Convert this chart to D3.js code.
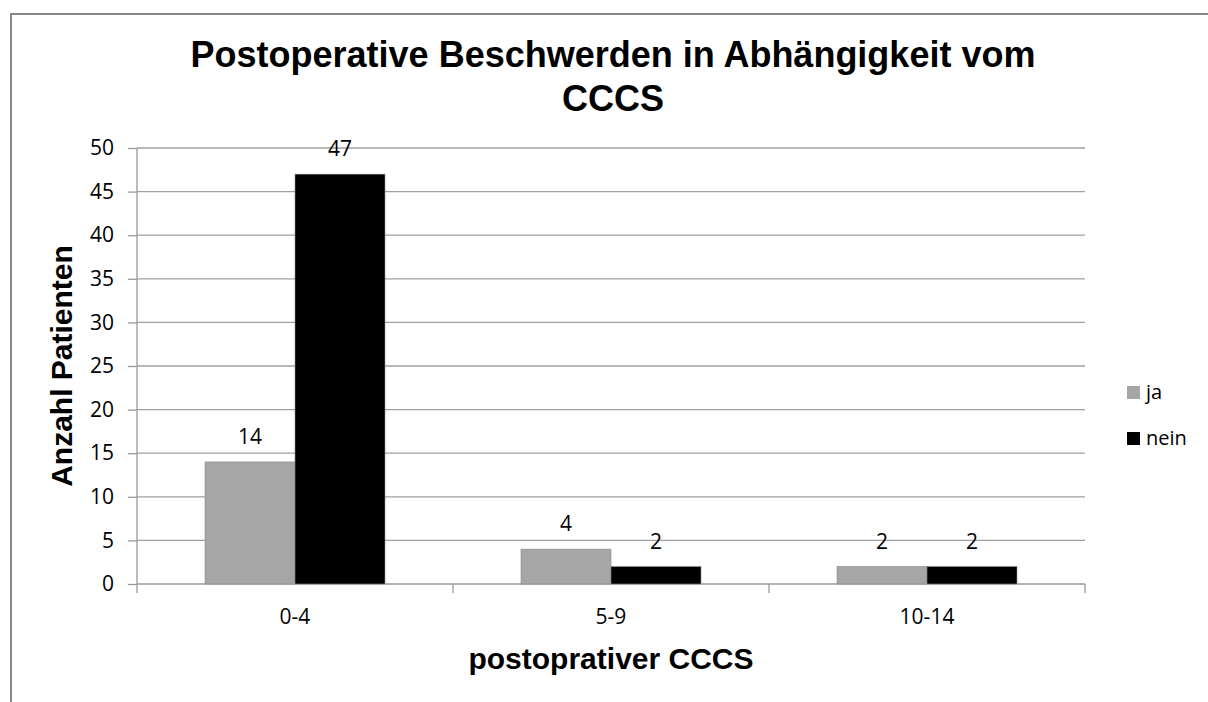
<!DOCTYPE html>
<html>
<head>
<meta charset="utf-8"/>
<script src="https://d3js.org/d3.v7.min.js"></script>
<style>
  body { margin:0; background:#fff; }
  svg text { fill:#000; }
</style>
</head>
<body>
<script>
// data
var categories = ["0-4", "5-9", "10-14"];
var seriesNames = ["ja", "nein"];
var jaValues = [14, 4, 2];
var neinValues = [47, 2, 2];
var yTicks = [0, 5, 10, 15, 20, 25, 30, 35, 40, 45, 50];
var colors = ["#a6a6a6", "#000000"];

var W = 1208, H = 702;
var plotLeft = 137, plotRight = 1085, plotTop = 148, plotBottom = 584;
var labelFont = "'Open Sans', sans-serif";
var boldFont = "'Liberation Sans', Arial, sans-serif";

var svg = d3.select("body").append("svg")
  .attr("width", W).attr("height", H);

// outer frame
svg.append("path")
  .attr("d", "M11,702 L11,14 L1208,14")
  .attr("fill", "none").attr("stroke", "#878787").attr("stroke-width", 2);

var x0 = d3.scaleBand().domain(categories).range([plotLeft, plotRight]);
var x1 = d3.scaleBand().domain(seriesNames).range([0, 180]);
var y = d3.scaleLinear().domain([0, 50]).range([plotBottom, plotTop]);

// gridlines
svg.append("g").selectAll("line")
  .data(yTicks.slice(1))
  .enter().append("line")
  .attr("x1", plotLeft).attr("x2", plotRight)
  .attr("y1", function(d){ return y(d); })
  .attr("y2", function(d){ return y(d); })
  .attr("stroke", "#a0a0a0").attr("stroke-width", 1.3);

// y axis
var yAxis = svg.append("g")
  .attr("transform", "translate(" + plotLeft + ",0)")
  .call(d3.axisLeft(y).tickValues(yTicks).tickSize(9).tickPadding(14));
yAxis.selectAll("line, path").attr("stroke", "#9a9a9a").attr("stroke-width", 1.3);
yAxis.select(".domain").attr("d", "M0," + plotTop + "V" + plotBottom);
yAxis.selectAll("text")
  .style("font-family", labelFont)
  .style("font-size", "21px").attr("fill", "#222");

// x axis
var xAxis = svg.append("g")
  .attr("transform", "translate(0," + plotBottom + ")")
  .call(d3.axisBottom(x0).tickSize(0).tickPadding(25));
xAxis.select(".domain").attr("stroke", "#9a9a9a").attr("stroke-width", 1.3)
  .attr("d", "M" + plotLeft + ",0H" + plotRight);
xAxis.selectAll("text")
  .style("font-family", labelFont)
  .style("font-size", "21px").attr("fill", "#222");
// category separators
var seps = [plotLeft].concat(categories.map(function(c){ return x0(c) + x0.bandwidth(); }));
xAxis.append("g").selectAll("line")
  .data(seps).enter().append("line")
  .attr("x1", function(d){ return d; }).attr("x2", function(d){ return d; })
  .attr("y1", 0).attr("y2", 9)
  .attr("stroke", "#9a9a9a").attr("stroke-width", 1.3);

// bars
var series = [jaValues, neinValues];
var groupOffset = (x0.bandwidth() - 180) / 2;
series.forEach(function(vals, s) {
  var g = svg.append("g");
  g.selectAll("rect")
    .data(vals).enter().append("rect")
    .attr("x", function(d, i){ return x0(categories[i]) + groupOffset + x1(seriesNames[s]); })
    .attr("width", x1.bandwidth())
    .attr("y", function(d){ return y(d); })
    .attr("height", function(d){ return plotBottom - y(d); })
    .attr("fill", colors[s])
    .attr("stroke", "#8a8a8a").attr("stroke-width", 0.6);
  g.selectAll("text")
    .data(vals).enter().append("text")
    .attr("x", function(d, i){ return x0(categories[i]) + groupOffset + x1(seriesNames[s]) + x1.bandwidth() / 2; })
    .attr("y", function(d){ return y(d) - 18; })
    .attr("text-anchor", "middle")
    .style("font-family", labelFont)
    .style("font-size", "21px").attr("fill", "#222")
    .text(function(d){ return d; });
});

// title
var title = svg.append("text")
  .attr("text-anchor", "middle")
  .style("font-family", boldFont)
  .style("font-weight", "bold").style("font-size", "36px");
title.append("tspan").attr("x", 613).attr("y", 67)
  .text("Postoperative Beschwerden in Abhängigkeit vom");
title.append("tspan").attr("x", 613).attr("y", 111).text("CCCS");

// axis titles
svg.append("text")
  .attr("x", (plotLeft + plotRight) / 2).attr("y", 669)
  .attr("text-anchor", "middle")
  .style("font-family", boldFont)
  .style("font-weight", "bold").style("font-size", "30px")
  .text("postoprativer CCCS");

svg.append("text")
  .attr("transform", "translate(72,366) rotate(-90)")
  .attr("text-anchor", "middle")
  .style("font-family", boldFont)
  .style("font-weight", "bold").style("font-size", "30px")
  .text("Anzahl Patienten");

// legend
var legend = svg.append("g").selectAll("g")
  .data(seriesNames).enter().append("g")
  .attr("transform", function(d, i){ return "translate(1127," + (386 + i * 46) + ")"; });
legend.append("rect").attr("width", 13).attr("height", 13)
  .attr("fill", function(d, i){ return colors[i]; });
legend.append("text").attr("x", 19).attr("y", 13)
  .style("font-family", labelFont)
  .style("font-size", "20px").attr("fill", "#222")
  .text(function(d){ return d; });
</script>
</body>
</html>
